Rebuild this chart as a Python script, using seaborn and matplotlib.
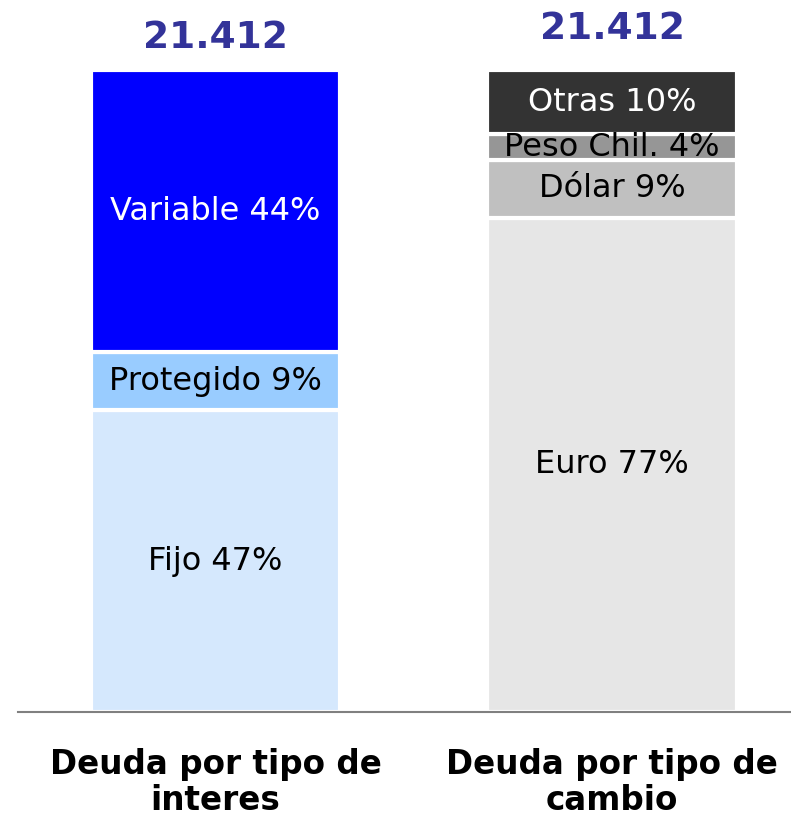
import matplotlib
matplotlib.use("Agg")
import matplotlib.pyplot as plt
import seaborn as sns

# data
categories = ["Deuda por tipo de\ninteres", "Deuda por tipo de\ncambio"]
totals = ["21.412", "21.412"]

interes_labels = ["Fijo", "Protegido", "Variable"]
interes_values = [47, 9, 44]
interes_colors = ["#d5e8fd", "#99ccff", "#0000ff"]
interes_text = ["black", "black", "white"]

cambio_labels = ["Euro", "Dólar", "Peso Chil.", "Otras"]
cambio_values = [77, 9, 4, 10]
cambio_colors = ["#e6e6e6", "#c0c0c0", "#969696", "#333333"]
cambio_text = ["black", "black", "black", "white"]

sns.set_style("white")
plt.rcParams["font.family"] = ["DejaVu Sans"]

fig = plt.figure(figsize=(7.91, 8.16), dpi=100)
ax = fig.add_axes([18 / 791, 104 / 816, 773 / 791, 712 / 816])

stacks = [
    (categories[0], interes_labels, interes_values, interes_colors, interes_text),
    (categories[1], cambio_labels, cambio_values, cambio_colors, cambio_text),
]

for i, (cat, labels, values, colors, tcols) in enumerate(stacks):
    bottom = 0
    for lab, val, col, tc in zip(labels, values, colors, tcols):
        sns.barplot(x=[cat], y=[val], order=categories, bottom=bottom,
                    color=col, width=0.63, edgecolor="white", linewidth=3,
                    saturation=1, ax=ax)
        ax.text(i, bottom + val / 2, f"{lab} {val}%", ha="center", va="center",
                fontsize=23, color=tc)
        bottom += val
    ax.text(i, bottom + (5.0 if i == 0 else 6.4), totals[i], ha="center", va="center",
            fontsize=27, fontweight="bold", color="#333399")

ax.set_xlim(-0.498, 1.451)
ax.set_ylim(0, 110.9)
ax.set_yticks([])
ax.set_xticks([])
ax.set_xlabel("")
ax.set_ylabel("")
sns.despine(ax=ax, left=True, right=True, top=True, bottom=False)
ax.spines["bottom"].set_color("#808080")
ax.spines["bottom"].set_linewidth(1.5)

for i, cat in enumerate(categories):
    ax.text(i, -0.099, cat, transform=ax.get_xaxis_transform(), ha="center", va="center",
            fontsize=23.5, fontweight="bold", color="black", linespacing=1.15)

fig.savefig("out.png", dpi=100)
